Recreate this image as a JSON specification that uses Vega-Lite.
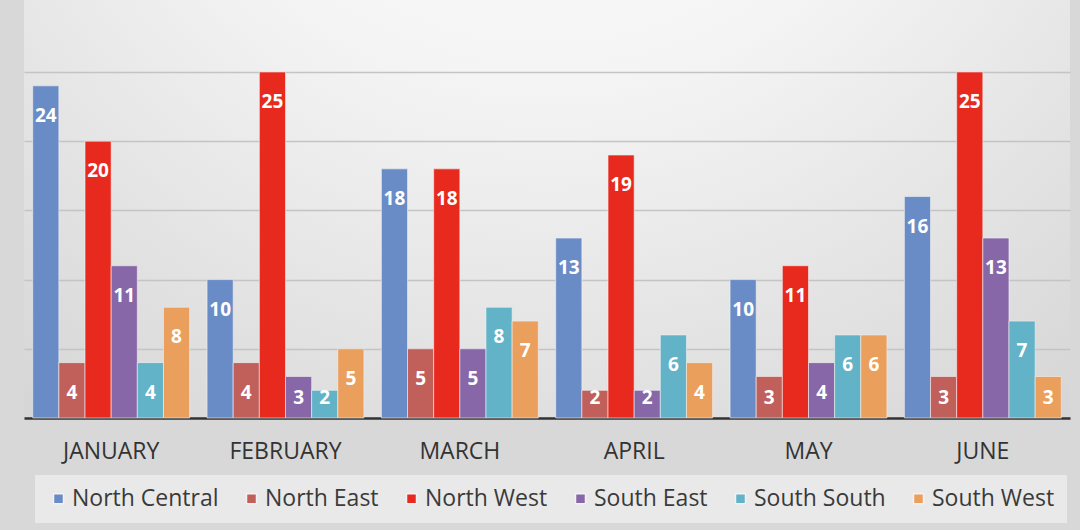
{
  "$schema": "https://vega.github.io/schema/vega-lite/v6.json",
  "width": 1046,
  "height": 418,
  "padding": {"left": 24, "top": 0, "right": 10, "bottom": 112},
  "autosize": {"type": "none"},
  "background": "#d8d8d8",
  "config": {
    "view": {"stroke": null, "fill": {"gradient": "radial", "x1": 0.5, "y1": 0, "r1": 0, "x2": 0.5, "y2": 0, "r2": 0.85, "stops": [{"offset": 0, "color": "#ffffff"}, {"offset": 0.45, "color": "#f4f4f4"}, {"offset": 1, "color": "#d6d6d6"}]}},
    "font": "Open Sans"
  },
  "data": {
    "values": [
      {"month": "JANUARY", "region": "North Central", "value": 24},
      {"month": "JANUARY", "region": "North East", "value": 4},
      {"month": "JANUARY", "region": "North West", "value": 20},
      {"month": "JANUARY", "region": "South East", "value": 11},
      {"month": "JANUARY", "region": "South South", "value": 4},
      {"month": "JANUARY", "region": "South West", "value": 8},
      {"month": "FEBRUARY", "region": "North Central", "value": 10},
      {"month": "FEBRUARY", "region": "North East", "value": 4},
      {"month": "FEBRUARY", "region": "North West", "value": 25},
      {"month": "FEBRUARY", "region": "South East", "value": 3},
      {"month": "FEBRUARY", "region": "South South", "value": 2},
      {"month": "FEBRUARY", "region": "South West", "value": 5},
      {"month": "MARCH", "region": "North Central", "value": 18},
      {"month": "MARCH", "region": "North East", "value": 5},
      {"month": "MARCH", "region": "North West", "value": 18},
      {"month": "MARCH", "region": "South East", "value": 5},
      {"month": "MARCH", "region": "South South", "value": 8},
      {"month": "MARCH", "region": "South West", "value": 7},
      {"month": "APRIL", "region": "North Central", "value": 13},
      {"month": "APRIL", "region": "North East", "value": 2},
      {"month": "APRIL", "region": "North West", "value": 19},
      {"month": "APRIL", "region": "South East", "value": 2},
      {"month": "APRIL", "region": "South South", "value": 6},
      {"month": "APRIL", "region": "South West", "value": 4},
      {"month": "MAY", "region": "North Central", "value": 10},
      {"month": "MAY", "region": "North East", "value": 3},
      {"month": "MAY", "region": "North West", "value": 11},
      {"month": "MAY", "region": "South East", "value": 4},
      {"month": "MAY", "region": "South South", "value": 6},
      {"month": "MAY", "region": "South West", "value": 6},
      {"month": "JUNE", "region": "North Central", "value": 16},
      {"month": "JUNE", "region": "North East", "value": 3},
      {"month": "JUNE", "region": "North West", "value": 25},
      {"month": "JUNE", "region": "South East", "value": 13},
      {"month": "JUNE", "region": "South South", "value": 7},
      {"month": "JUNE", "region": "South West", "value": 3}
    ]
  },
  "encoding": {
    "x": {
      "field": "month", "type": "nominal", "sort": null, "title": null,
      "scale": {"paddingInner": 0.1, "paddingOuter": 0.05},
      "axis": {"labelAngle": 0, "ticks": false, "domainColor": "#333333", "domainWidth": 2.5, "labelFontSize": 23, "labelColor": "#333333", "labelPadding": 22, "grid": false}
    },
    "xOffset": {"field": "region", "type": "nominal", "sort": null, "scale": {"paddingInner": 0, "paddingOuter": 0}},
    "y": {
      "field": "value", "type": "quantitative", "title": null,
      "scale": {"domain": [0, 30.2], "nice": false},
      "axis": {"values": [0, 5, 10, 15, 20, 25], "labels": false, "ticks": false, "domain": false, "grid": true, "gridColor": "#c4c4c4", "gridWidth": 1.5}
    }
  },
  "layer": [
    {
      "mark": {"type": "bar", "stroke": "#f2f2f2", "strokeWidth": 0.6},
      "encoding": {
        "color": {
          "field": "region", "type": "nominal", "sort": null, "title": null,
          "scale": {"domain": ["North Central", "North East", "North West", "South East", "South South", "South West"], "range": ["#6a8cc6", "#c15f5b", "#e8291e", "#8767a8", "#62b2c8", "#eb9f5c"]},
          "legend": {"orient": "none", "legendX": 11, "legendY": 475, "direction": "horizontal", "symbolType": "square", "symbolSize": 100, "labelFontSize": 23, "labelColor": "#3a3a3a", "columnPadding": 21, "fillColor": "#e9e9e9", "padding": 12, "labelOffset": 2}
        }
      }
    },
    {
      "mark": {"type": "text", "baseline": "top", "dy": {"expr": "datum.value <= 2 ? -1 : datum.value <= 3 ? 13 : 21"}, "color": "white", "fontSize": 19, "fontWeight": "bold"},
      "encoding": {"text": {"field": "value", "type": "quantitative"}}
    }
  ]
}
